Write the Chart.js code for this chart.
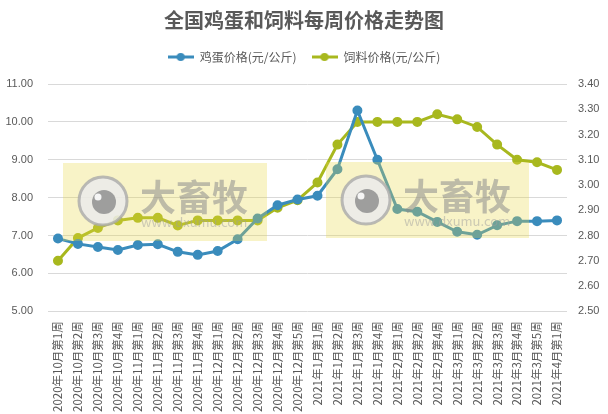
<!DOCTYPE html>
<html>
<head>
<meta charset="utf-8">
<script src="https://cdn.jsdelivr.net/npm/chart.js@4"></script>
<style>
  html, body { margin: 0; padding: 0; background: #fff; }
  #wrap { width: 608px; height: 414px; }
</style>
</head>
<body>
<div id="wrap"><canvas id="precioChart"></canvas></div>
<script>
// Semanas del periodo
const semanas = [
    '2020年10月第1周', '2020年10月第2周', '2020年10月第3周', '2020年10月第4周',
    '2020年11月第1周', '2020年11月第2周', '2020年11月第3周', '2020年11月第4周',
    '2020年12月第1周', '2020年12月第2周', '2020年12月第3周', '2020年12月第4周', '2020年12月第5周',
    '2021年1月第1周', '2021年1月第2周', '2021年1月第3周', '2021年1月第4周',
    '2021年2月第1周', '2021年2月第2周', '2021年2月第4周',
    '2021年3月第1周', '2021年3月第2周', '2021年3月第3周', '2021年3月第4周', '2021年3月第5周',
    '2021年4月第1周'
];

// 鸡蛋价格 (eje izquierdo)
const precioHuevo = [
    6.92, 6.78, 6.70, 6.62, 6.75, 6.77, 6.57, 6.49, 6.59, 6.90, 7.45, 7.80, 7.95,
    8.05, 8.75, 10.30, 9.00, 7.70, 7.63, 7.36, 7.10, 7.02, 7.27, 7.38, 7.38, 7.40
];

// 饲料价格 (eje derecho)
const precioPienso = [
    2.70, 2.79, 2.83, 2.86, 2.87, 2.87, 2.84, 2.86, 2.86, 2.86, 2.86, 2.91, 2.94,
    3.01, 3.16, 3.25, 3.25, 3.25, 3.25, 3.28, 3.26, 3.23, 3.16, 3.10, 3.09, 3.06
];

const nombresSeries = ['鸡蛋价格(元/公斤)', '饲料价格(元/公斤)'];
const tituloGrafico = '全国鸡蛋和饲料每周价格走势图';

const colorHuevo = '#3a8cbc';
const colorPienso = '#a8b81e';
const colorTexto = '#595959';
const fuente = '"Noto Sans CJK SC", "Noto Sans", sans-serif';
const fuenteNum = '"Liberation Sans", Arial, sans-serif';

/**
 * Icono de leyenda: línea con punto en el centro.
 */
function iconoLeyenda(color) {
    const c = document.createElement('canvas');
    c.width = 26;
    c.height = 10;
    const g = c.getContext('2d');
    g.strokeStyle = color;
    g.lineWidth = 3;
    g.beginPath();
    g.moveTo(0, 5);
    g.lineTo(26, 5);
    g.stroke();
    g.fillStyle = color;
    g.beginPath();
    g.arc(13, 5, 4, 0, Math.PI * 2);
    g.fill();
    return c;
}

// Marca de agua "大畜牧" encima de las líneas
const marcaAgua = {
    id: 'marcaAgua',
    afterDatasetsDraw(chart) {
        const g = chart.ctx;
        const cajas = [[63, 163, 204, 78], [326, 162, 203, 76]];
        cajas.forEach(([x, y, w, h]) => {
            g.save();
            g.fillStyle = 'rgba(232, 216, 70, 0.3)';
            g.fillRect(x, y, w, h);
            // logo circular
            const cx = x + 40, cy = y + 38;
            g.fillStyle = 'rgba(235, 235, 235, 0.85)';
            g.strokeStyle = 'rgba(170, 170, 170, 0.8)';
            g.lineWidth = 3;
            g.beginPath();
            g.arc(cx, cy, 24, 0, Math.PI * 2);
            g.fill();
            g.stroke();
            g.fillStyle = 'rgba(150, 150, 150, 0.9)';
            g.beginPath();
            g.arc(cx + 1, cy + 1, 12, 0, Math.PI * 2);
            g.fill();
            g.fillStyle = 'rgba(255, 255, 255, 0.9)';
            g.beginPath();
            g.arc(cx - 5, cy - 4, 3.5, 0, Math.PI * 2);
            g.fill();
            // texto
            g.fillStyle = 'rgba(140, 140, 140, 0.55)';
            g.font = 'bold 36px ' + fuente;
            g.textBaseline = 'middle';
            g.fillText('大畜牧', x + 77, y + 34);
            g.font = '13px ' + fuente;
            g.fillStyle = 'rgba(160, 160, 160, 0.5)';
            g.fillText('www.dxumu.com', x + 78, y + 59);
            g.restore();
        });
    }
};

// Espacio extra debajo de la leyenda
const espacioLeyenda = {
    id: 'espacioLeyenda',
    beforeLayout(chart) {
        const leyenda = chart.legend;
        if (leyenda && !leyenda._espacio) {
            leyenda._espacio = true;
            const fitOriginal = leyenda.fit;
            leyenda.fit = function() {
                fitOriginal.call(this);
                this.height += 11;
            };
        }
    }
};

const ctx = document.getElementById('precioChart').getContext('2d');

new Chart(ctx, {
    type: 'line',
    data: {
        labels: semanas,
        datasets: [{
            label: nombresSeries[0],
            data: precioHuevo,
            yAxisID: 'y',
            borderColor: colorHuevo,
            backgroundColor: colorHuevo,
            borderWidth: 3,
            pointRadius: 3.5,
            pointHoverRadius: 4,
            tension: 0
        }, {
            label: nombresSeries[1],
            data: precioPienso,
            yAxisID: 'y1',
            borderColor: colorPienso,
            backgroundColor: colorPienso,
            borderWidth: 3,
            pointRadius: 3.5,
            pointHoverRadius: 4,
            tension: 0
        }]
    },
    options: {
        responsive: true,
        maintainAspectRatio: false,
        animation: false,
        layout: { padding: { left: 0, right: 0, top: 0, bottom: 0 } },
        scales: {
            x: {
                offset: true,
                grid: { display: false },
                border: { display: false },
                ticks: {
                    autoSkip: false,
                    minRotation: 90,
                    maxRotation: 90,
                    color: colorTexto,
                    font: { family: fuente, size: 11.5 },
                    padding: 2
                }
            },
            y: {
                position: 'left',
                min: 5,
                max: 11,
                border: { display: false },
                grid: { color: '#d9d9d9', drawTicks: false },
                afterFit: scale => { scale.width = 48; },
                ticks: {
                    stepSize: 1,
                    color: colorTexto,
                    padding: 15,
                    font: { family: fuenteNum, size: 11 },
                    callback: v => v.toFixed(2)
                }
            },
            y1: {
                position: 'right',
                min: 2.5,
                max: 3.4,
                border: { display: false },
                grid: { drawOnChartArea: false, drawTicks: false },
                afterFit: scale => { scale.width = 41; },
                ticks: {
                    stepSize: 0.1,
                    color: colorTexto,
                    padding: 11,
                    font: { family: fuenteNum, size: 11 },
                    callback: v => v.toFixed(2)
                }
            }
        },
        plugins: {
            title: {
                display: true,
                text: tituloGrafico,
                color: colorTexto,
                font: { family: fuente, size: 20, weight: 'bold' },
                padding: { top: 8, bottom: 4 }
            },
            legend: {
                display: true,
                position: 'top',
                labels: {
                    color: colorTexto,
                    font: { family: fuente, size: 12 },
                    usePointStyle: true,
                    pointStyleWidth: 26,
                    padding: 15,
                    generateLabels: function(chart) {
                        const base = Chart.defaults.plugins.legend.labels.generateLabels(chart);
                        return base.map((item, i) => {
                            item.pointStyle = iconoLeyenda(i === 0 ? colorHuevo : colorPienso);
                            return item;
                        });
                    }
                }
            },
            tooltip: { enabled: false }
        }
    },
    plugins: [marcaAgua, espacioLeyenda]
});
</script>
</body>
</html>
